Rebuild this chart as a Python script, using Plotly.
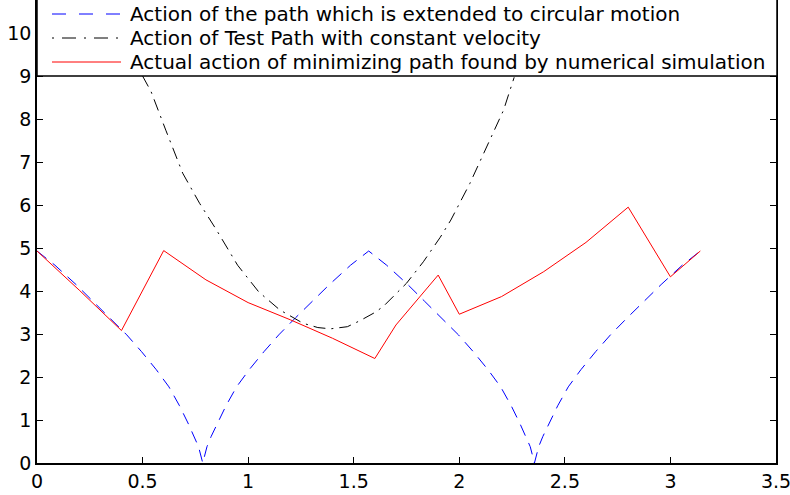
import plotly.graph_objects as go

# ---- data ----
blue_x = [0, 0.085, 0.185, 0.265, 0.345, 0.425, 0.495, 0.565, 0.625, 0.675, 0.715, 0.745, 0.765, 0.785,
          0.805, 0.825, 0.855, 0.895, 0.945, 1.005, 1.075, 1.145, 1.225, 1.305, 1.385, 1.485, 1.571,
          1.656, 1.756, 1.836, 1.916, 1.996, 2.066, 2.136, 2.196, 2.246, 2.286, 2.316, 2.336, 2.356,
          2.376, 2.396, 2.426, 2.466, 2.516, 2.576, 2.646, 2.716, 2.796, 2.876, 2.956, 3.056, 3.1416]
blue_y = [4.93, 4.60, 4.15, 3.76, 3.38, 2.98, 2.59, 2.17, 1.77, 1.33, 0.93, 0.62, 0.38, 0.0,
          0.38, 0.62, 0.93, 1.33, 1.77, 2.17, 2.59, 2.98, 3.38, 3.76, 4.15, 4.60, 4.93,
          4.60, 4.15, 3.76, 3.38, 2.98, 2.59, 2.17, 1.77, 1.33, 0.93, 0.62, 0.38, 0.0,
          0.38, 0.62, 0.93, 1.33, 1.77, 2.17, 2.59, 2.98, 3.38, 3.76, 4.15, 4.60, 4.93]

black_x = [0.50, 0.54, 0.61, 0.69, 0.77, 0.85, 0.95, 1.05, 1.15, 1.26, 1.33, 1.39, 1.47, 1.53,
           1.60, 1.64, 1.75, 1.83, 1.91, 1.96, 2.05, 2.13, 2.21, 2.26]
black_y = [9.0, 8.64, 7.74, 6.74, 6.04, 5.42, 4.60, 3.98, 3.56, 3.25, 3.15, 3.12, 3.17, 3.31,
           3.50, 3.64, 4.18, 4.68, 5.25, 5.65, 6.50, 7.36, 8.21, 8.97]

red_x = [0, 0.2, 0.4, 0.6, 0.8, 1.0, 1.2, 1.4, 1.6, 1.7, 1.9, 2.0, 2.2, 2.4, 2.6, 2.8, 3.0, 3.1416]
red_y = [4.93, 4.02, 3.08, 4.94, 4.26, 3.73, 3.33, 2.90, 2.43, 3.21, 4.37, 3.46, 3.87, 4.45, 5.13, 5.95, 4.33, 4.93]

legend_labels = [
    "Action of the path which is extended to circular motion",
    "Action of Test Path with constant velocity",
    "Actual action of minimizing path found by numerical simulation",
]
x_ticks = [0, 0.5, 1, 1.5, 2, 2.5, 3, 3.5]
x_tick_labels = ["0", "0.5", "1", "1.5", "2", "2.5", "3", "3.5"]
y_ticks = [0, 1, 2, 3, 4, 5, 6, 7, 8, 9, 10]

FONT = "DejaVu Sans"
W, H = 790, 495
ML, MR, MT, MB = 37, 14, 0, 32
PW, PH = W - ML - MR, H - MT - MB
YTOP = PH / 43.0

fig = go.Figure()
fig.add_trace(go.Scatter(x=blue_x, y=blue_y, mode="lines", name=legend_labels[0],
                         line=dict(color="#0000ff", width=1, dash="12px,8px"), showlegend=False))
fig.add_trace(go.Scatter(x=black_x, y=black_y, mode="lines", name=legend_labels[1],
                         line=dict(color="#000000", width=1, dash="12px,6px,2px,6px"), showlegend=False))
fig.add_trace(go.Scatter(x=red_x, y=red_y, mode="lines", name=legend_labels[2],
                         line=dict(color="#ff0000", width=1), showlegend=False))

def px2paper_x(px):
    return (px - ML) / PW

def px2paper_y(py):
    return (H - MB - py) / PH

shapes = []
shapes.append(dict(type="rect", xref="paper", yref="paper",
                   x0=px2paper_x(37), x1=px2paper_x(777), y0=9 / YTOP, y1=1.2,
                   line=dict(color="black", width=1.5), fillcolor="white", layer="above"))
row_y = [14, 38, 62]
styles = [dict(color="#0000ff", width=1, dash="14px,13px"),
          dict(color="#000000", width=1, dash="2px,8px,14px,8px"),
          dict(color="#ff0000", width=1)]
annotations = []
for i in range(3):
    yp = px2paper_y(row_y[i])
    shapes.append(dict(type="line", xref="paper", yref="paper",
                       x0=px2paper_x(52), x1=px2paper_x(121), y0=yp, y1=yp,
                       line=styles[i], layer="above"))
    annotations.append(dict(xref="paper", yref="paper", x=px2paper_x(128), y=yp,
                            xanchor="left", yanchor="middle", showarrow=False,
                            text=legend_labels[i], font=dict(family=FONT, size=20, color="black")))

fig.update_layout(
    template="none",
    width=W, height=H,
    margin=dict(l=ML, r=MR, t=MT, b=MB, pad=0, autoexpand=False),
    paper_bgcolor="white", plot_bgcolor="white",
    shapes=shapes, annotations=annotations,
    showlegend=False,
    font=dict(family=FONT, size=19, color="black"),
)
fig.update_xaxes(range=[0, 3.5], tickvals=x_ticks, ticktext=x_tick_labels, automargin=False,
                 showgrid=False, zeroline=False, showline=True, linecolor="black", linewidth=1.5,
                 ticks="inside", ticklen=6, tickcolor="black", mirror=False,
                 ticklabeloverflow="allow",
                 tickfont=dict(family=FONT, size=19, color="black"))
fig.update_yaxes(range=[0, YTOP], tickvals=y_ticks, automargin=False,
                 showgrid=False, zeroline=False, showline=True, linecolor="black", linewidth=1.5,
                 ticks="inside", ticklen=6, tickcolor="black", mirror="ticks",
                 ticklabeloverflow="allow",
                 tickfont=dict(family=FONT, size=19, color="black"))

fig.write_html("out.html", config={"displayModeBar": False},
               post_script="document.body.style.margin='0';document.body.style.padding='0';")
